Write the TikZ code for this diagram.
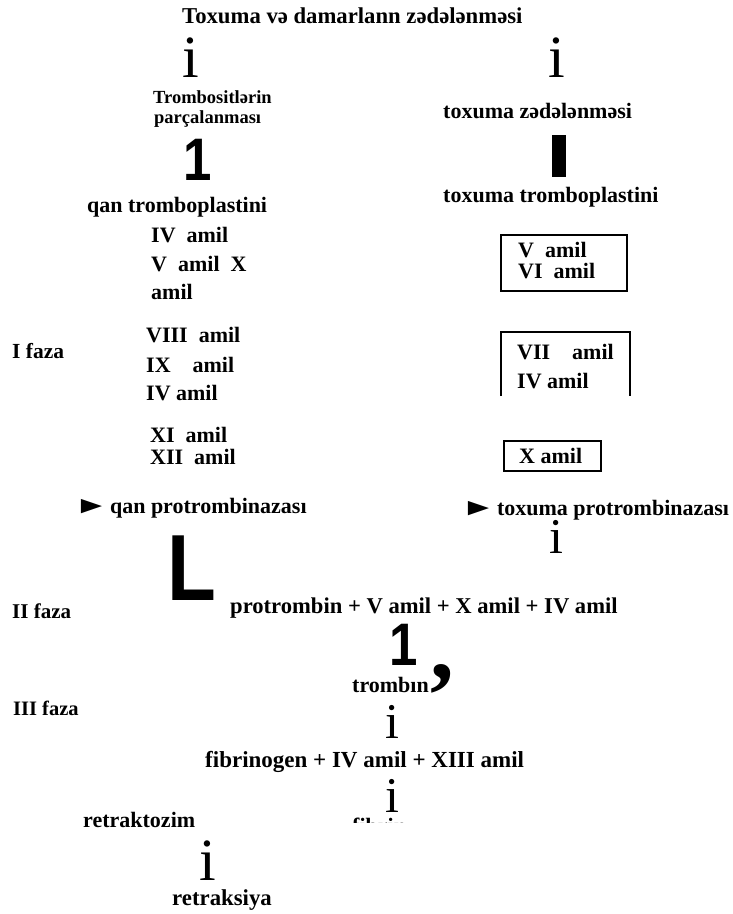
\documentclass[tikz,border=0pt]{standalone}
\usepackage{graphicx}
\usepackage{fontspec}
\setmainfont{Liberation Serif}
\newfontfamily\glyphsans[FakeStretch=0.85]{Liberation Sans}

\newcommand{\pointer}{\scalebox{1.6}[1.1]{►}\hspace{1pt}}

\begin{document}
\begin{tikzpicture}[x=1pt,y=-1pt,
    lbl/.style={anchor=base west,inner sep=0pt,font=\fontsize{22}{26}\selectfont\bfseries},
    lblat/.style={lbl,font=\fontsize{#1}{26}\selectfont\bfseries},
    glyph/.style={anchor=base west,inner sep=0pt,font=\fontsize{60}{60}\selectfont},
    glyphsmall/.style={glyph,font=\fontsize{50}{50}\selectfont},
    glyphsans/.style={anchor=base west,inner sep=0pt,font=\glyphsans\bfseries\fontsize{#1}{#1}\selectfont},
    boxline/.style={line width=1.6pt}]
    \fill[white] (0,0) rectangle (733,914);
    \useasboundingbox (0,0) rectangle (733,914);

    \node[lblat=22.7] (title) at (182,23) {Toxuma və damarlann zədələnməsi};
    \node[glyph] (arrTL) at (182,77) {i};
    \node[glyph] (arrTR) at (548,77) {i};

    \node[lblat=18.5] (trombA) at (153,103) {Trombositlərin};
    \node[lblat=18.5] (trombB) at (154,123) {parçalanması};
    \node[lbl] (tzed) at (443,118) {toxuma zədələnməsi};

    \node[glyphsans=60] (oneA) at (183,180) {1};
    \fill (552,135) rectangle (566,177);

    \node[lbl] (qtp) at (87,212) {qan tromboplastini};
    \node[lbl] (ttp) at (443,202) {toxuma tromboplastini};

    \node[lbl] (fa1) at (151,242) {IV\ \ amil};
    \node[lbl] (fa2) at (151,271) {V\ \ amil\ \ X};
    \node[lbl] (fa3) at (151,299) {amil};
    \node[lbl] (fa4) at (146,342) {VIII\ \ amil};
    \node[lbl] (fa5) at (146,372) {IX\ \ \ \ amil};
    \node[lbl] (fa6) at (146,400) {IV amil};
    \node[lbl] (fa7) at (150,442) {XI\ \ amil};
    \node[lbl] (fa8) at (150,464) {XII\ \ amil};
    \node[lblat=21.5] (faza1) at (12,358) {I faza};

    \node[lbl] (fb1) at (518,257) {V\ \ amil};
    \node[lbl] (fb2) at (518,278) {VI\ \ amil};
    \draw[boxline] (501,235) rectangle (627,291);
    \node[lbl] (fb3) at (517,359) {VII\ \ \ \ amil};
    \node[lbl] (fb4) at (517,388) {IV amil};
    \draw[boxline] (501,396) -- (501,332) -- (630,332) -- (630,396);
    \node[lbl] (fb5) at (519,463) {X amil};
    \draw[boxline] (504,441) rectangle (601,471);

    \node[lbl] (qpb) at (74,513) {\pointer qan protrombinazası};
    \node[lbl] (tpb) at (461,515) {\pointer toxuma protrombinazası};
    \node[glyphsmall] (arrR) at (549,553) {i};
    \node[glyphsans=94] (ell) at (167,600) {L};

    \node[lblat=21] (faza2) at (12,618) {II faza};
    \node[lblat=22.6] (ptr) at (230,613) {protrombin + V amil + X amil + IV amil};
    \node[glyphsans=60] (oneB) at (389,665) {1};
    \node[anchor=base west,inner sep=0pt,font=\bfseries\fontsize{95}{95}\selectfont] (comma) at (430,678) {,};
    \node[lbl] (trombin) at (352,692) {trombın};

    \node[lblat=20.5] (faza3) at (13,715) {III faza};
    \node[glyphsmall] (arrC1) at (385,738) {i};
    \node[lblat=23] (fbr) at (205,767) {fibrinogen + IV amil + XIII amil};
    \node[glyphsmall] (arrC2) at (385,812) {i};
    \begin{scope}
        \clip (340,810) rectangle (440,822);
        \node[lbl] (fibrin) at (352,833) {fibrin};
    \end{scope}

    \node[lbl] (rtz) at (83,827) {retraktozim};
    \node[glyph] (arrBL) at (199,880) {i};
    \node[lblat=22.8] (rts) at (172,905) {retraksiya};
\end{tikzpicture}
\end{document}
